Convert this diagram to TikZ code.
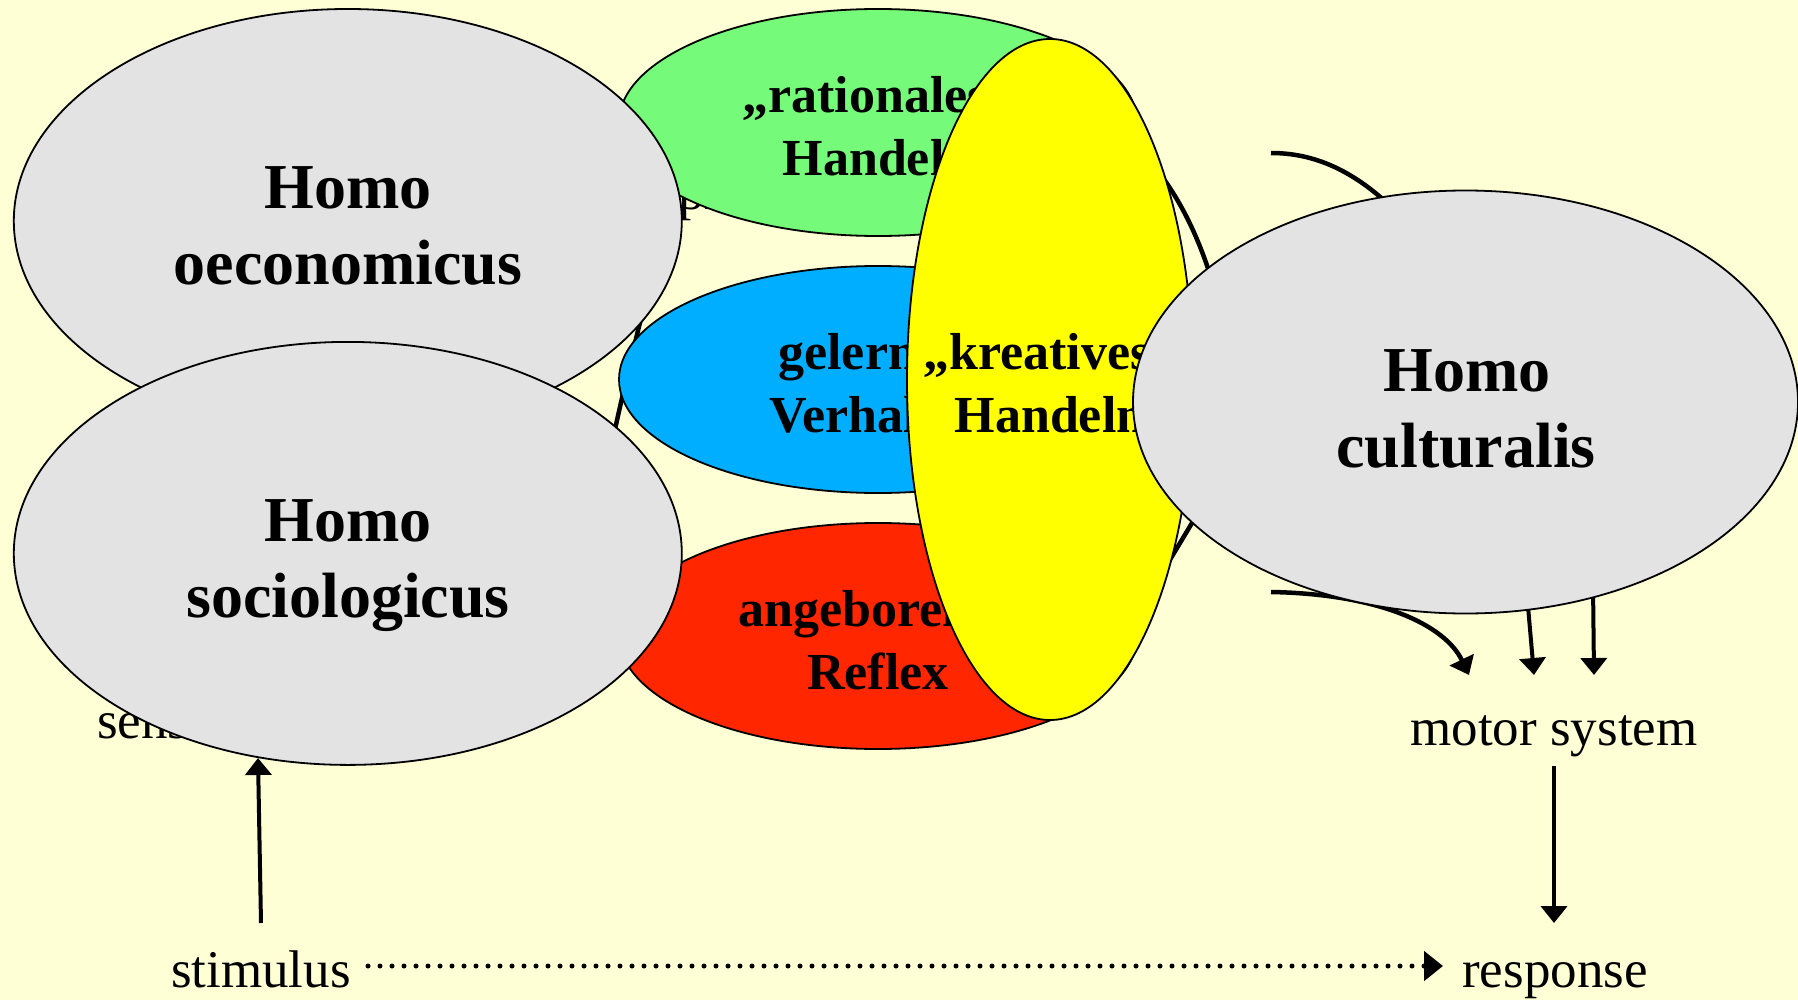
\documentclass[tikz,border=0pt]{standalone}
\usepackage{fontspec}
\setmainfont{Liberation Serif}
\usetikzlibrary{shapes.geometric,arrows.meta}
\definecolor{bgc}{RGB}{255,255,214}
\definecolor{greyc}{RGB}{227,227,227}
\definecolor{greenc}{RGB}{118,250,122}
\definecolor{bluec}{RGB}{0,174,255}
\definecolor{redc}{RGB}{255,38,0}
\definecolor{yellowc}{RGB}{255,255,0}
\begin{document}
\begin{tikzpicture}[x=1pt,y=-1pt,
  oval/.style={ellipse,draw=black,line width=1.8pt,inner sep=0pt},
  homo/.style={font=\fontsize{64}{76}\selectfont\bfseries,inner sep=0pt,anchor=base},
  lab/.style={font=\fontsize{52}{62}\selectfont\bfseries,inner sep=0pt,anchor=base},
  plain/.style={font=\fontsize{53}{64}\selectfont,inner sep=0pt,anchor=base},
  arcline/.style={line width=4.5pt},
  arr/.style={line width=4pt,-{Triangle[length=17pt,width=26pt]}},
]
\useasboundingbox (0,0) rectangle (1798,1000);
\fill[bgc] (0,0) rectangle (1798,1000);

% partly hidden texts of the underlying diagram
\node[plain,anchor=base west] (sens) at (97,738) {sensory system};
\node[plain,anchor=base west] (proc) at (678,210) {pr};

% hidden connectors (visible only in gaps)
\coordinate (l0) at (602,492); \coordinate (l1) at (652,275);
\draw[arcline] (l0) .. controls (612,440) and (630,360) .. (l1);
\coordinate (t0) at (1135,145); \coordinate (t1) at (1225,330);
\draw[arcline] (t0) .. controls (1175,185) and (1205,240) .. (t1);
\coordinate (r0) at (1141,608); \coordinate (r1) at (1261,408);
\draw[arcline] (r0) -- (r1);
\coordinate (f0) at (1271,153); \coordinate (f1) at (1430,250);
\draw[arcline] (f0) .. controls (1325,153) and (1375,180) .. (f1);
\coordinate (g0) at (1271,592); \coordinate (m1) at (1469,675);
\draw[arcline,-{Triangle[length=17pt,width=26pt]}] (g0) .. controls (1380,594) and (1445,625) .. (m1);
\coordinate (a0) at (1527,595); \coordinate (m2) at (1534,675);
\draw[arr] (a0) -- (m2);
\coordinate (b0) at (1593,585); \coordinate (m3) at (1594,675);
\draw[arr] (b0) -- (m3);

% three coloured ellipses
\node[oval,fill=greenc,minimum width=518pt,minimum height=227pt] (green) at (878,122.5) {};
\node[lab] (gt1) at (878,113) {„rationales“};
\node[lab] (gt2) at (878,176) {Handeln};
\node[oval,fill=bluec,minimum width=518pt,minimum height=227pt] (blue) at (878,379.5) {};
\node[lab] (bt1) at (878,369) {gelerntes};
\node[lab] (bt2) at (878,432) {Verhalten};
\node[oval,fill=redc,minimum width=518pt,minimum height=226pt] (red) at (878,636) {};
\node[lab] (rt1) at (878,626) {angeborener};
\node[lab] (rt2) at (878,689) {Reflex};

% yellow
\node[oval,fill=yellowc,minimum width=286pt,minimum height=681pt] (yellow) at (1050,379.5) {};
\node[lab] (yt1) at (1050,369) {„kreatives“};
\node[lab] (yt2) at (1050,432) {Handeln};

% grey Homo ellipses
\node[oval,fill=greyc,minimum width=668pt,minimum height=424pt] (oec) at (347.8,221) {};
\node[homo] (ot1) at (348,209) {Homo};
\node[homo] (ot2) at (348,284.5) {oeconomicus};
\node[oval,fill=greyc,minimum width=668pt,minimum height=423pt] (soc) at (347.8,553.4) {};
\node[homo] (st1) at (348,541) {Homo};
\node[homo] (st2) at (348,617) {sociologicus};
\node[oval,fill=greyc,minimum width=665pt,minimum height=423pt] (cul) at (1465.5,402) {};
\node[homo] (ct1) at (1467,391) {Homo};
\node[homo] (ct2) at (1466,467) {culturalis};

% stimulus / response
\node[plain] (stim) at (261,987) {stimulus};
\node[plain] (resp) at (1555,987) {response};
\node[plain] (motor) at (1554,745) {motor system};
\coordinate (s0) at (261,923); \coordinate (s1) at (258,758);
\draw[arr] (s0) -- (s1);
\coordinate (mo0) at (1554,766); \coordinate (mo1) at (1554,923);
\draw[arr] (mo0) -- (mo1);
\coordinate (d0) at (368,966); \coordinate (d1) at (1443,966);
\draw[line width=5pt,line cap=round,dash pattern=on 0pt off 12pt,-{Triangle[length=19pt,width=29pt]}] (d0) -- (d1);
\end{tikzpicture}
\end{document}
